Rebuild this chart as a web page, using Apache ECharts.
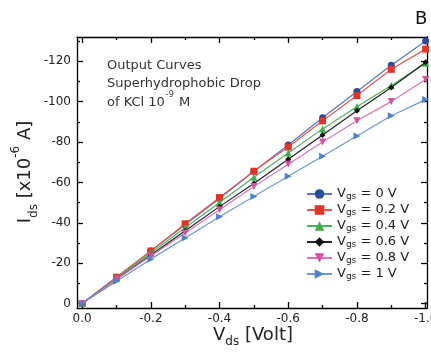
<!DOCTYPE html>
<html><head><meta charset="utf-8">
<script src="https://cdn.jsdelivr.net/npm/echarts@6/dist/echarts.min.js"></script>
<style>html,body{margin:0;padding:0;background:#fff}#c{width:431px;height:352px}</style>
</head><body><div id="c"></div>
<script>
var vds = [0, -0.1, -0.2, -0.3, -0.4, -0.5, -0.6, -0.7, -0.8, -0.9, -1.0];
var vgsLabels = ['0', '0.2', '0.4', '0.6', '0.8', '1'];
var ids_vgs0  = [0, -13, -26, -39, -52, -65.5, -78.5, -92, -105, -118, -130];
var ids_vgs02 = [0, -13, -26, -39.5, -52.5, -65.5, -77.5, -90.5, -103, -116, -126];
var ids_vgs04 = [0, -12.5, -25, -37.5, -50, -62.5, -74.5, -86.5, -97.5, -108, -119];
var ids_vgs06 = [0, -12, -24, -36, -48, -59.5, -71.5, -83.5, -95.5, -107, -119.5];
var ids_vgs08 = [0, -12, -23.5, -35, -46.5, -58, -69, -80, -90.5, -100, -111];
var ids_vgs1  = [0, -11, -22, -32.5, -43, -53, -63, -73, -83, -93, -101];
var xMajor = [0, -0.2, -0.4, -0.6, -0.8, -1.0];
var xMinor = [-0.1, -0.3, -0.5, -0.7, -0.9];
var yMajor = [0, -20, -40, -60, -80, -100, -120];
var yMinor = [-10, -30, -50, -70, -90, -110, -130];

var allData = [ids_vgs0, ids_vgs02, ids_vgs04, ids_vgs06, ids_vgs08, ids_vgs1];
var markColors = ['#2a4a9c', '#e5332a', '#3aae48', '#111111', '#d4519f', '#4f82cc'];
var lineColors = ['#5576c2', '#e8574f', '#4cb358', '#222222', '#d873b6', '#6f98d8'];
var symbols = ['circle', 'rect', 'triangle', 'diamond', 'path://M0,0 L10,0 L5,9 Z', 'path://M0,0 L9,5 L0,10 Z'];
var sizes = [7, 7, 7, 6, 7, 7];

var F = 'DejaVu Sans';
var X0 = 0.015, X1 = -1.004, Y0 = -132, Y1 = 2.2;

function mkX(pos, vals, len, showLabel, showLine) {
  return {
    type: 'value', position: pos, inverse: true, min: X1, max: X0,
    splitLine: {show: false},
    axisLine: {show: showLine, onZero: false, lineStyle: {color: '#000', width: 1.3}},
    axisTick: {show: true, inside: true, length: len, customValues: vals, lineStyle: {color: '#000', width: 1.3}},
    axisLabel: {show: showLabel, customValues: vals, margin: 5, color: '#222', fontFamily: F, fontSize: 12,
      formatter: function (v) { return Number(v).toFixed(1); }}
  };
}
function mkY(pos, vals, len, showLabel, showLine) {
  return {
    type: 'value', position: pos, inverse: true, min: Y0, max: Y1,
    splitLine: {show: false},
    axisLine: {show: showLine, onZero: false, lineStyle: {color: '#000', width: 1.3}},
    axisTick: {show: true, inside: true, length: len, customValues: vals, lineStyle: {color: '#000', width: 1.3}},
    axisLabel: {show: showLabel, customValues: vals, margin: 6, color: '#222', fontFamily: F, fontSize: 12,
      formatter: function (v) { return String(Math.round(v)); }}
  };
}

var series = allData.map(function (d, i) {
  return {
    name: 'Vgs = ' + vgsLabels[i] + ' V',
    type: 'line',
    xAxisIndex: 0, yAxisIndex: 0,
    data: vds.map(function (x, j) { return [x, d[j]]; }),
    symbol: symbols[i], symbolSize: sizes[i],
    itemStyle: {color: markColors[i]},
    lineStyle: {color: lineColors[i], width: 1.2},
    z: 10 + i, animation: false
  };
});

var chart = echarts.init(document.getElementById('c'), null, {renderer: 'canvas'});
chart.setOption({
  animation: false,
  backgroundColor: '#fff',
  grid: {left: 77, right: 4, top: 37, bottom: 44, containLabel: false, outerBoundsMode: 'none'},
  xAxis: [
    mkX('bottom', xMajor, 6, true, true),
    mkX('bottom', xMinor, 3, false, false),
    mkX('top', xMajor, 6, false, true),
    mkX('top', xMinor, 3, false, false)
  ],
  yAxis: [
    mkY('left', yMajor, 6, true, true),
    mkY('left', yMinor, 3, false, false),
    mkY('right', yMajor, 6, false, true),
    mkY('right', yMinor, 3, false, false)
  ],
  legend: {
    orient: 'vertical', left: 301, top: 182, itemGap: 2, itemWidth: 25, itemHeight: 12,
    textStyle: {
      fontFamily: F, fontSize: 13, color: '#222',
      rich: {
        v: {fontFamily: F, fontSize: 13, color: '#222', lineHeight: 14, verticalAlign: 'middle'},
        s: {fontFamily: F, fontSize: 9, color: '#222', lineHeight: 14, verticalAlign: 'bottom', padding: [5, 0, 0, 0]}
      }
    },
    formatter: function (name) {
      var val = name.replace('Vgs = ', '');
      return '{v|V}{s|gs}{v| = ' + val + '}';
    },
    data: series.map(function (s) { return s.name; })
  },
  graphic: [
    {type: 'text', left: 107, top: 59, style: {text: 'Output Curves', font: '13px "DejaVu Sans"', fill: '#333'}},
    {type: 'text', left: 107, top: 77, style: {text: 'Superhydrophobic Drop', font: '13px "DejaVu Sans"', fill: '#333'}},
    {type: 'text', left: 107, top: 91, style: {
      text: '{a|of KCl 10}{b|-9}{a| M}', fill: '#333',
      rich: {
        a: {fontFamily: F, fontSize: 13, fill: '#333', lineHeight: 18, verticalAlign: 'bottom'},
        b: {fontFamily: F, fontSize: 8, fill: '#333', lineHeight: 18, verticalAlign: 'top', padding: [0, 1, 0, 1]}
      }}},
    {type: 'text', left: 415, top: 10, style: {text: 'B', font: '18px "DejaVu Sans"', fill: '#111'}},
    {type: 'text', x: 253, y: 335, style: {
      text: '{a|V}{b|ds}{a| [Volt]}', align: 'center', verticalAlign: 'middle',
      rich: {
        a: {fontFamily: F, fontSize: 18, fill: '#222', lineHeight: 26, verticalAlign: 'middle'},
        b: {fontFamily: F, fontSize: 12, fill: '#222', lineHeight: 26, verticalAlign: 'bottom'}
      }}},
    {type: 'text', x: 25, y: 172, rotation: Math.PI / 2, style: {
      text: '{a|I}{b|ds}{a| [x10}{c|-6}{a| A]}', align: 'center', verticalAlign: 'middle',
      rich: {
        a: {fontFamily: F, fontSize: 18, fill: '#222', lineHeight: 30, verticalAlign: 'middle'},
        b: {fontFamily: F, fontSize: 12, fill: '#222', lineHeight: 30, verticalAlign: 'bottom'},
        c: {fontFamily: F, fontSize: 12, fill: '#222', lineHeight: 30, verticalAlign: 'top'}
      }}}
  ],
  series: series
});
</script>
</body></html>
